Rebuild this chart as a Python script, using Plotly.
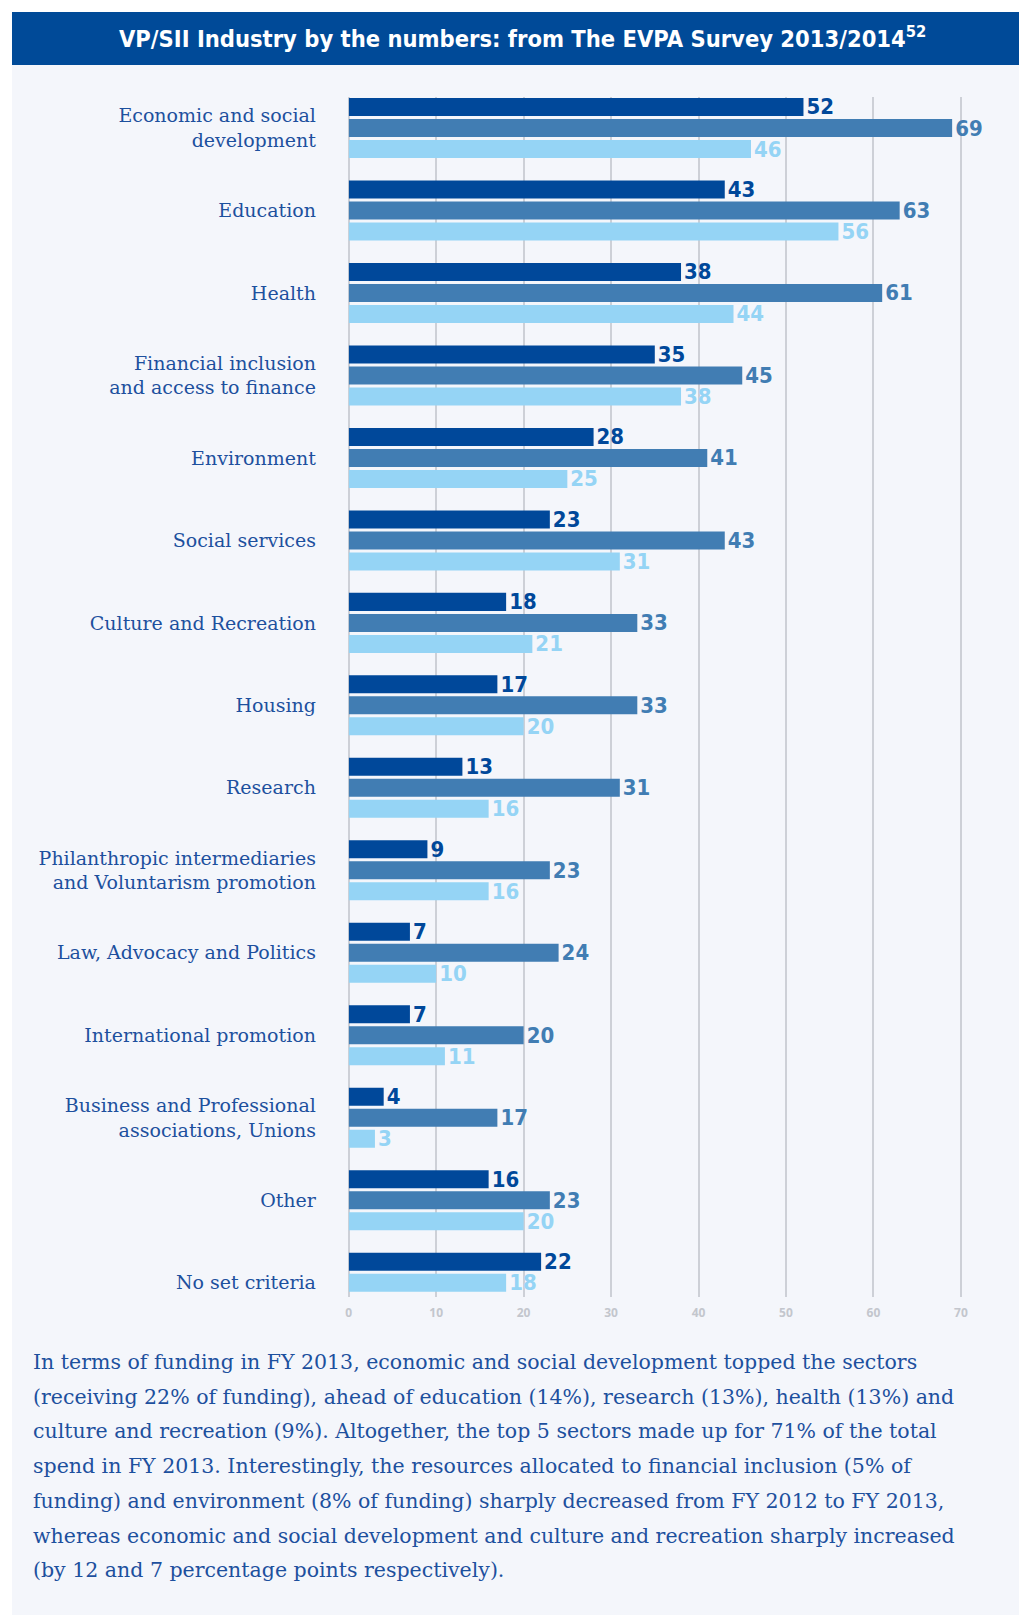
import plotly.graph_objects as go

DARK = "#00489A"
MID = "#417DB3"
LIGHT = "#95D4F5"
PANEL = "#F4F6FB"
BANNER = "#004A98"
LABEL = "#1D509E"
GRID = "#CDD0D7"
TICK = "#C3C6CD"

W, H = 1027, 1615
OFF = 8  # the page body margin shifts the figure by 8px; positions below are page pixels

sectors = [
    "Economic and social<br>development",
    "Education",
    "Health",
    "Financial inclusion<br>and access to finance",
    "Environment",
    "Social services",
    "Culture and Recreation",
    "Housing",
    "Research",
    "Philanthropic intermediaries<br>and Voluntarism promotion",
    "Law, Advocacy and Politics",
    "International promotion",
    "Business and Professional<br>associations, Unions",
    "Other",
    "No set criteria",
]
dark = [52, 43, 38, 35, 28, 23, 18, 17, 13, 9, 7, 7, 4, 16, 22]
mid = [69, 63, 61, 45, 41, 43, 33, 33, 31, 23, 24, 20, 17, 23, None]
light = [46, 56, 44, 38, 25, 31, 21, 20, 16, 16, 10, 11, 3, 20, 18]
x_ticks = [0, 10, 20, 30, 40, 50, 60, 70]

footnote = [
    "In terms of funding in FY 2013, economic and social development topped the sectors",
    "(receiving 22% of funding), ahead of education (14%), research (13%), health (13%) and",
    "culture and recreation (9%). Altogether, the top 5 sectors made up for 71% of the total",
    "spend in FY 2013. Interestingly, the resources allocated to financial inclusion (5% of",
    "funding) and environment (8% of funding) sharply decreased from FY 2012 to FY 2013,",
    "whereas economic and social development and culture and recreation sharply increased",
    "(by 12 and 7 percentage points respectively).",
]

# where a sector has no middle bar, the light bar moves up into the middle slot
mid_y, mid_x, mid_cols, light_y, light_x = [], [], [], [], []
for s, m, l in zip(sectors, mid, light):
    mid_y.append(s)
    if m is None:
        mid_x.append(l)
        mid_cols.append(LIGHT)
    else:
        mid_x.append(m)
        mid_cols.append(MID)
        light_y.append(s)
        light_x.append(l)

VALUE_FONT = "Liberation Sans Narrow, DejaVu Sans Condensed, Open Sans, sans-serif"
SERIF = "DejaVu Serif, Liberation Serif, serif"


def px(v):
    return (v - OFF) / W


def py(v):
    return 1 - (v - OFF) / H


def bar(cats, values, colors):
    return go.Bar(
        y=cats, x=values, orientation="h",
        marker=dict(color=colors, line_width=0),
        text=values,
        textposition="outside", cliponaxis=False, constraintext="none",
        textfont=dict(family=VALUE_FONT, size=22, color=colors, weight="bold"),
        hoverinfo="skip", showlegend=False,
    )


fig = go.Figure()
fig.add_trace(bar(sectors, dark, DARK))
fig.add_trace(bar(mid_y, mid_x, mid_cols))
fig.add_trace(bar(light_y, light_x, LIGHT))

unit = 8.771  # px per value unit
x_zero = 346.7
top, bottom = 97, 1297
cat0, pitch = 128, 82.48
fig.update_layout(
    width=W, height=H, autosize=False,
    margin=dict(l=0, r=0, t=0, b=0),
    paper_bgcolor="white", plot_bgcolor=PANEL,
    barmode="group", bargap=0.236, bargroupgap=0.143,
    xaxis=dict(
        domain=[px(x_zero), 1.0], range=[0, (W + OFF - x_zero) / unit],
        tickvals=x_ticks, showgrid=True, gridcolor=GRID, gridwidth=1.5,
        zeroline=True, zerolinecolor=GRID, zerolinewidth=1.5,
        tickfont=dict(family="Open Sans", size=12, color=TICK, weight="bold"),
        ticks="outside", ticklen=5, tickcolor="rgba(0,0,0,0)",
        showline=False, fixedrange=True,
    ),
    yaxis=dict(
        type="category", categoryorder="array", categoryarray=sectors,
        domain=[py(bottom), py(top)],
        range=[(bottom - cat0) / pitch, (top - cat0) / pitch],
        showgrid=False, zeroline=False, showline=False,
        ticks="outside", ticklen=28, tickcolor="rgba(0,0,0,0)",
        tickfont=dict(family=SERIF, size=19, color=LABEL),
        fixedrange=True,
    ),
    shapes=[
        dict(type="rect", xref="paper", yref="paper", x0=px(9), x1=1, y0=0, y1=py(12),
             fillcolor=PANEL, line_width=0, layer="below"),
        dict(type="rect", xref="paper", yref="paper", x0=px(9), x1=1, y0=py(65), y1=py(12),
             fillcolor=BANNER, line_width=0, layer="below"),
    ],
)

fig.add_annotation(
    x=px(521), y=py(38), xref="paper", yref="paper", showarrow=False,
    xanchor="center", yanchor="middle",
    text="VP/SII Industry by the numbers: from The EVPA Survey 2013/2014<sup>52</sup>",
    font=dict(family=VALUE_FONT, size=23.5, color="white", weight="bold"),
)

for i, line in enumerate(footnote):
    fig.add_annotation(
        x=px(28), y=py(1362 + 34.7 * i), xref="paper", yref="paper",
        xanchor="left", yanchor="middle", showarrow=False, text=line, align="left",
        font=dict(family=SERIF, size=20.5, color=LABEL),
    )

fig.write_html("out.html")
